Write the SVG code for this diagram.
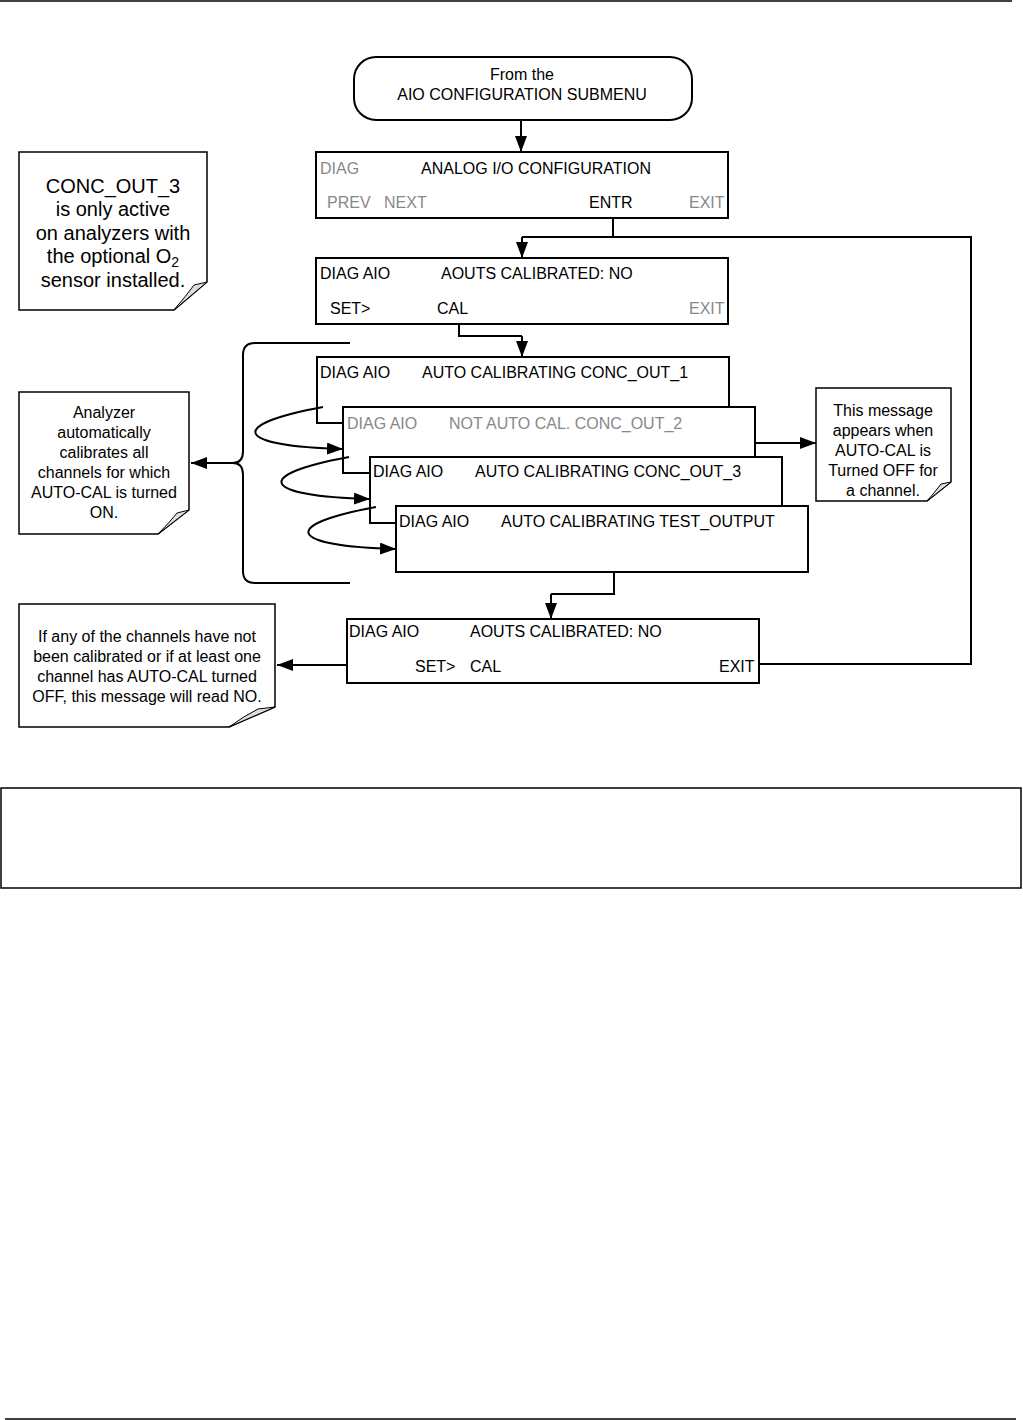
<svg xmlns="http://www.w3.org/2000/svg" width="1023" height="1420" viewBox="0 0 1023 1420">
<defs>
<marker id="ah" markerWidth="16" markerHeight="12" refX="16" refY="6" orient="auto" markerUnits="userSpaceOnUse"><path d="M0,0 L16,6 L0,12 Z" fill="#000"/></marker>
<style>
text{font-family:"Liberation Sans",Arial,sans-serif;font-size:16px;fill:#000}
.g{fill:#888}
.c{text-anchor:middle}
.box{fill:#fff;stroke:#000;stroke-width:2}
.note{fill:#fff;stroke:#000;stroke-width:1.5}
.fold{fill:#ddd;stroke:#000;stroke-width:1}
.ln{fill:none;stroke:#000;stroke-width:2}
.arr{fill:none;stroke:#000;stroke-width:2;marker-end:url(#ah)}
.big{font-size:20px}
</style>
</defs>
<rect width="1023" height="1420" fill="#fff"/>
<g id="page-frame">
<line x1="0" y1="1" x2="1012" y2="1" stroke="#000" stroke-width="1.5"/>
<line x1="5" y1="1419" x2="1016" y2="1419" stroke="#000" stroke-width="1.5"/>
<rect x="1" y="788" width="1020" height="100" fill="none" stroke="#000" stroke-width="1.5"/>
</g>
<g id="start">
<rect x="354" y="57" width="338" height="63" rx="22" class="box"/>
<text x="522" y="80" class="c">From the</text>
<text x="522" y="100" class="c">AIO CONFIGURATION SUBMENU</text>
</g>
<g id="connectors">
<line x1="521" y1="120" x2="521" y2="152" class="arr"/>
<polyline points="613,219 613,237 522,237" class="ln"/>
<line x1="522" y1="237" x2="522" y2="258" class="arr"/>
<polyline points="613,237 971,237 971,664 757,664" class="ln"/>
<polyline points="459,324 459,336 522,336" class="ln"/>
<line x1="522" y1="336" x2="522" y2="357" class="arr"/>
<polyline points="614,572 614,594 551,594" class="ln"/>
<line x1="551" y1="594" x2="551" y2="619" class="arr"/>
<line x1="755" y1="443" x2="816" y2="443" class="arr"/>
<line x1="233" y1="463" x2="191" y2="463" class="arr"/>
<line x1="352" y1="665" x2="277" y2="665" class="arr"/>
<path d="M350,343 H255 Q243,343 243,355 V451 Q243,463 233,463 Q243,463 243,475 V571 Q243,583 255,583 H350" class="ln"/>
</g>
<g id="box1">
<rect x="316" y="152" width="412" height="66" class="box"/>
<text x="320" y="174" class="g">DIAG</text>
<text x="421" y="174">ANALOG I/O CONFIGURATION</text>
<text x="327" y="208" class="g">PREV</text>
<text x="384" y="208" class="g">NEXT</text>
<text x="589" y="208">ENTR</text>
<text x="689" y="208" class="g">EXIT</text>
</g>
<g id="box2">
<rect x="316" y="258" width="412" height="66" class="box"/>
<text x="320" y="279">DIAG AIO</text>
<text x="441" y="279">AOUTS CALIBRATED: NO</text>
<text x="330" y="314">SET&gt;</text>
<text x="437" y="314">CAL</text>
<text x="689" y="314" class="g">EXIT</text>
</g>
<g id="box3">
<rect x="317" y="357" width="412" height="66" class="box"/>
<text x="320" y="378">DIAG AIO</text>
<text x="422" y="378">AUTO CALIBRATING CONC_OUT_1</text>
</g>
<g id="box4">
<rect x="343" y="407" width="412" height="66" class="box"/>
<text x="347" y="429" class="g">DIAG AIO</text>
<text x="449" y="429" class="g">NOT AUTO CAL. CONC_OUT_2</text>
</g>
<g id="box5">
<rect x="370" y="457" width="412" height="66" class="box"/>
<text x="373" y="477">DIAG AIO</text>
<text x="475" y="477">AUTO CALIBRATING CONC_OUT_3</text>
</g>
<g id="box6">
<rect x="396" y="506" width="412" height="66" class="box"/>
<text x="399" y="527">DIAG AIO</text>
<text x="501" y="527">AUTO CALIBRATING TEST_OUTPUT</text>
</g>
<g id="loops">
<path d="M323,407 C225,425 235,446 343,449" class="arr"/>
<path d="M349,457 C251,475 261,496 370,499" class="arr"/>
<path d="M376,507 C278,525 288,546 396,549" class="arr"/>
</g>
<g id="box7">
<rect x="347" y="619" width="412" height="64" class="box"/>
<text x="349" y="637">DIAG AIO</text>
<text x="470" y="637">AOUTS CALIBRATED: NO</text>
<text x="415" y="672">SET&gt;</text>
<text x="470" y="672">CAL</text>
<text x="719" y="672">EXIT</text>
</g>
<g id="note-conc">
<path d="M19,152 H207 V282 L174,310 H19 Z" class="note"/>
<path d="M207,282 L194,285 Q186,296 174,310 Z" class="fold"/>
<text x="113" y="193" class="c big">CONC_OUT_3</text>
<text x="113" y="216" class="c big">is only active</text>
<text x="113" y="240" class="c big">on analyzers with</text>
<text x="113" y="263" class="c big">the optional O<tspan font-size="14" dy="4">2</tspan></text>
<text x="113" y="287" class="c big">sensor installed.</text>
</g>
<g id="note-analyzer">
<path d="M19,392 H189 V510 L158,534 H19 Z" class="note"/>
<path d="M189,510 L177,513 Q169,523 158,534 Z" class="fold"/>
<text x="104" y="418" class="c">Analyzer</text>
<text x="104" y="438" class="c">automatically</text>
<text x="104" y="458" class="c">calibrates all</text>
<text x="104" y="478" class="c">channels for which</text>
<text x="104" y="498" class="c">AUTO-CAL is turned</text>
<text x="104" y="518" class="c">ON.</text>
</g>
<g id="note-message">
<path d="M816,388 H951 V482 L927,501 H816 Z" class="note"/>
<path d="M951,482 L941,484 Q935,492 927,501 Z" class="fold"/>
<text x="883" y="416" class="c">This message</text>
<text x="883" y="436" class="c">appears when</text>
<text x="883" y="456" class="c">AUTO-CAL is</text>
<text x="883" y="476" class="c">Turned OFF for</text>
<text x="883" y="496" class="c">a channel.</text>
</g>
<g id="note-no">
<path d="M19,604 H275 V707 L229,727 H19 Z" class="note"/>
<path d="M275,707 L258,709 Q244,716 229,727 Z" class="fold"/>
<text x="147" y="642" class="c">If any of the channels have not</text>
<text x="147" y="662" class="c">been calibrated or if at least one</text>
<text x="147" y="682" class="c">channel has AUTO-CAL turned</text>
<text x="147" y="702" class="c">OFF, this message will read NO.</text>
</g>
</svg>
